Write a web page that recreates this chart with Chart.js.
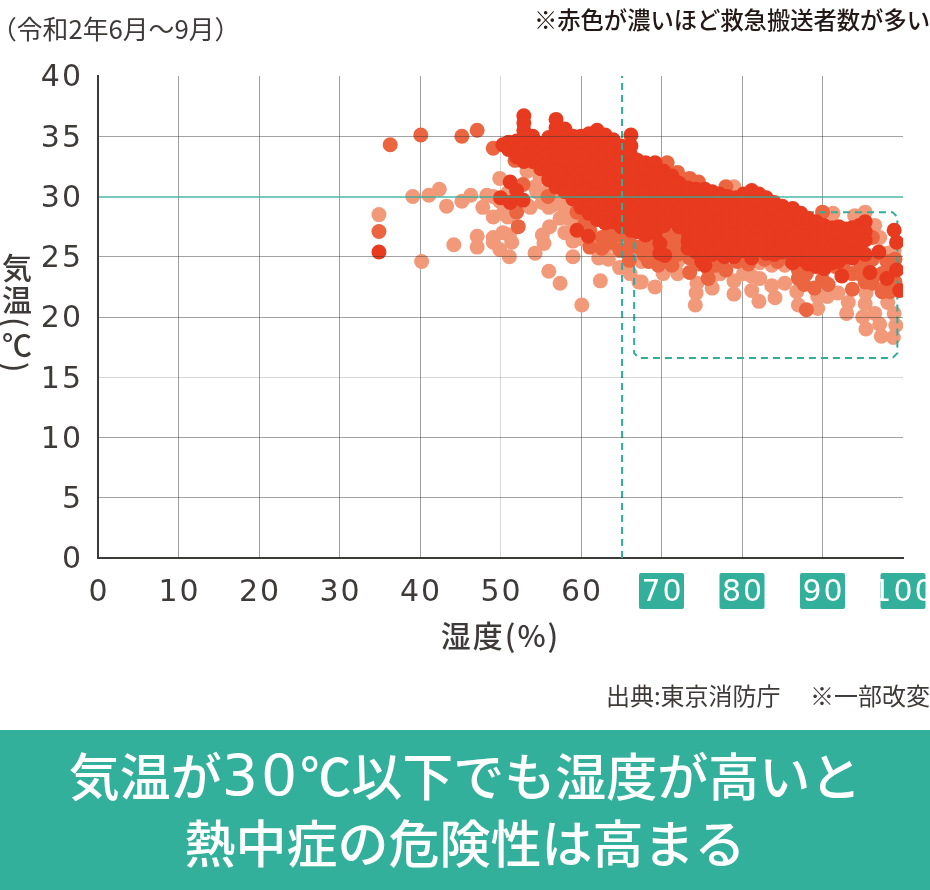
<!DOCTYPE html>
<html lang="ja">
<head>
<meta charset="utf-8">
<script src="https://cdn.jsdelivr.net/npm/chart.js@4"></script>
<style>
  html, body { margin: 0; padding: 0; background: #fff; }
  body { width: 930px; height: 890px; position: relative; overflow: hidden; font-family: "Noto Sans CJK JP", sans-serif; color: #3e3a39; }
  canvas { position: absolute; left: 0; top: 0; }
  .note { position: absolute; white-space: nowrap; line-height: 1; }
  #period { left: -9px; top: 15px; font-size: 25.8px; font-weight: 400; }
  #legendNote { right: 0; top: 8px; font-size: 23.3px; font-weight: 500; color: #231815; }
  #source { right: 0; top: 683px; font-size: 24px; font-weight: 400; }
  #yTitle { left: 2px; top: 253px; font-size: 30px; font-weight: 500; writing-mode: vertical-rl; letter-spacing: 2px; }
  #banner { position: absolute; left: 0; top: 730px; width: 930px; height: 160px; background: #32b09b; color: #fff; text-align: center; font-size: 51px; font-weight: 500; line-height: 67px; padding-top: 11px; box-sizing: border-box; }
  #banner span { font-family: "DejaVu Sans"; font-size: 57px; letter-spacing: 3px; line-height: 0; }
</style>
</head>
<body>
<canvas id="heat-chart" width="930" height="890"></canvas>
<div class="note" id="period">&#xFF08;令和2年6月〜9月&#xFF09;</div>
<div class="note" id="legendNote">※赤色が濃いほど救急搬送者数が多い</div>
<div class="note" id="yTitle">気温(℃)</div>
<div class="note" id="source">出典:東京消防庁&#x3000; ※一部改変</div>
<div id="banner">気温が<span>30</span>℃以下でも湿度が高いと<br>熱中症の危険性は高まる</div>
<script>
const xTicks = [0, 10, 20, 30, 40, 50, 60, 70, 80, 90, 100]
const yTicks = [0, 5, 10, 15, 20, 25, 30, 35, 40]
const boxedTicks = [70, 80, 90, 100]

// [humidity, [temperatures]]
const lightRows = [
  [34.9,[28.5]], [39.1,[30]], [40.2,[24.6]], [41.1,[30.1]], [42.4,[30.6]], [43.3,[29.2]], [44.2,[26]],
  [45.2,[29.6]], [46.3,[30.1]], [47.1,[26.7,25.8]], [47.8,[29.1]], [48.3,[30.1]], [49.1,[30,28.3,26.6,26.2]],
  [49.9,[31.5,29.6,25.6]], [50.3,[27,28.6]], [50.9,[30.3,28.3]], [51.1,[25,26.8]], [51.4,[26.2]],
  [53.3,[32.1,29.3]], [53.7,[29.1]], [54.3,[25.3,30.8]], [54.5,[30.4]], [54.9,[31.6]], [55.2,[26.8,29.5]],
  [55.4,[26.1]], [56,[23.8,29.1]], [56.1,[30.8,27.5]], [56.5,[29.3]], [57.4,[22.8,29.7,28.2]], [58,[27,29]],
  [58.4,[28.2]], [59,[25,26.3,28]], [60.1,[21,26.5]], [60.8,[27.6]], [61.6,[25.8]], [62.2,[24.9]], [62.4,[23]],
  [63.4,[24.8,26]], [64.8,[24.1,25.5]], [66.1,[23.6]], [67.2,[22.9,25.4]], [67.5,[24.6,22.9]], [69.2,[22.5]],
  [70.2,[23.6,25.8]], [72,[23.6,24.6]], [71.4,[27.7]], [73.4,[26.8]], [74.2,[21]], [74.3,[22]], [74.4,[22.8]],
  [76.3,[22.4,23.4]], [77.3,[23.6]], [79,[21.9,23,30.8]], [80.2,[23.6,24.4]], [81.2,[22.2,23.4]], [82.1,[21.3]],
  [82.2,[23.2,24.5]], [83.7,[22.6,24.3]], [84.1,[21.6]], [85.3,[22.8,24.3]], [86.8,[22.1,24.2]], [87,[21]],
  [89.4,[20.7,21.7]], [90.6,[21.7]], [91.3,[28.6]], [91.9,[22]], [93,[20.3]], [93.2,[21.2]], [94,[28.4]],
  [95,[20]], [95.3,[28.7,21.1]], [95.4,[22,19]], [96.5,[27.6,20.3]], [97.1,[26.6,19.4]], [97.3,[18.4]],
  [98.1,[21.2,25.3]], [98.8,[18.3]], [98.9,[20.3,25.5]], [99.1,[19.3]]
]
const midRows = [
  [34.9,[27.1]], [36.3,[34.3]], [40.1,[35.1]], [45.2,[35]], [47.1,[35.5]], [49.1,[34]],
  [51.8,[33]], [52,[28.7]], [52.2,[27.5]], [52.8,[31]], [55.9,[30]], [59.5,[28.7]], [60.5,[27.8]],
  [61.1,[25.8,27.2]], [62.6,[25.7,26.6]], [63.6,[27.2,26.2]], [64.8,[25.6,26.8]], [66,[24.7,25.8,26.6]],
  [66.4,[27]], [67.2,[25.8]], [67.8,[27,26,25.2]], [68.4,[25,24.6]], [69,[26.4,25.6]], [69.6,[24.3]],
  [70.6,[27,26.5]], [70.7,[32.8,26.2]], [71.3,[24.3,25.4]], [71.8,[26.2,27]], [72,[32,25.2]], [72.4,[25.8]],
  [72.8,[26.4]], [73.5,[23.7,31.5,24.9]], [74.6,[31.2,24.4]], [75.8,[23.2,24]], [76.8,[24.3]], [78,[23.9,30.8]],
  [79.4,[24.6]], [80.8,[24.4]], [82.8,[24.8]], [84.4,[24.6]], [86,[24.7]], [87,[23.9,23.2]], [87.7,[22.7]],
  [88,[20.6,23.6]], [89,[22.4]], [90,[28.7,23.1]], [90.7,[22.7]], [91.6,[24.2]], [92.7,[23.9]], [93.7,[22.3,23.6]],
  [94.6,[23.6,24.6]], [95.3,[22.9,24.1]], [96.2,[22.8,24.8,26.6]], [97.4,[22.1,23.6]], [98,[24.6,22.6]], [98.4,[22.1,23.8]], [99,[24.8,22.9]]
]
const darkRows = [
  [34.9,[25.4]], [50,[29.9]], [51.2,[31.2,29.5]], [52,[30.5]], [52.8,[29.7]],
  [50.3,[34.3]], [51,[34.5,33.9]], [52,[34.6,33.8,33.3]],
  [52.9,[36.7,36.1,35.5,34.9,34.2,33.5,32.9]],
  [54,[35,34.3,33.6,32.9]],
  [55,[34.4,33.7,33,32.3]],
  [56,[34.9,34.2,33.5,32.7,32,31.4]],
  [56.9,[36.4,35.7,35,34.3,33.6,32.8,32.1,31.3,30.8]],
  [58,[35.6,34.9,34.1,33.4,32.6,31.9,31.1,30.4]],
  [59,[35,34.3,33.5,32.8,32,31.3,30.5,29.8]],
  [59.5,[27.2]], [60.9,[26.7]],
  [60,[35,34.2,33.5,32.7,31.9,31.2,30.4,29.7,29.1]],
  [61,[35.2,34.4,33.6,32.9,32.1,31.3,30.6,29.8,29.1,28.6]],
  [62,[35.5,34.7,33.9,33.1,32.4,31.6,30.8,30.1,29.3,28.5,28.1]],
  [63,[35.1,34.4,33.6,32.8,32,31.2,30.5,29.7,28.9,28.2,27.8]],
  [64,[34.7,34,33.2,32.4,31.6,30.8,30,29.2,28.5,27.9]],
  [65,[34.2,33.5,32.7,31.9,31.1,30.3,29.5,28.7,28,27.5]],
  [66.2,[35.1,34.2,33.4,32.6,31.8,31,30.2,29.4,28.6,27.9,27.2]],
  [67,[33,32.3,31.5,30.7,29.9,29.1,28.3,27.6,27.1]],
  [68,[32.8,32,31.2,30.4,29.6,28.8,28.1,27.3,26.8]],
  [69.2,[32.8,32,31.2,30.4,29.6,28.9,28.2,27.6,27]],
  [69.8,[25.3,26.1]], [70.4,[25.1]],
  [70.3,[32.1,31.3,30.5,29.7,28.9,28.2,27.6]],
  [71.3,[31.7,31,30.2,29.4,28.7,28]],
  [72.2,[31.1,30.4,29.6,28.9,28.2,27.5]],
  [73.3,[30.7,30,29.2,28.5,27.7,27,26.3,25.7]],
  [74.3,[30.6,29.8,29.1,28.3,27.5,26.8,26,25.4]],
  [75,[24.6]],
  [75.4,[30.6,29.8,29,28.3,27.5,26.7,25.9,25.2,24.3]],
  [76.3,[30.4,29.6,28.8,28.1,27.3,26.5,25.8,25.2]],
  [77.2,[30.2,29.4,28.7,27.9,27.1,26.3,25.6]],
  [77.8,[25]],
  [78.2,[30,29.3,28.5,27.7,27,26.2,25.5]],
  [79,[25]],
  [79.2,[29.9,29.1,28.3,27.6,26.8,26.1,25.4]],
  [80.2,[30.2,29.4,28.6,27.8,27.1,26.3,25.5]],
  [81.2,[30.5,29.7,28.9,28.1,27.4,26.6,25.8,24.9]],
  [82.1,[30.2,29.5,28.7,27.9,27.1,26.4,25.6]],
  [83,[29.9,29.1,28.4,27.6,26.8,26,25.3]],
  [84,[29.5,28.8,28,27.2,26.5,25.7,25.2]],
  [85,[29.2,28.4,27.7,26.9,26.1,25.4]],
  [86.3,[29,28.2,27.5,26.7,26,25.2,24.5]],
  [87.3,[28.6,27.9,27.1,26.3,25.6,24.8]],
  [88.2,[28.2,27.5,26.7,26,25.2,24.4]],
  [89.2,[27.9,27.1,26.4,25.6,24.9,24.2]],
  [90.2,[27.6,26.9,26.1,25.4,24.7,24]],
  [91.2,[27.4,26.7,25.9,25.2,24.5]],
  [92,[27.5,26.8,26,25.3,24.6]], [92.4,[23.4]],
  [93,[27.3,26.5,25.8,25]],
  [93.7,[27.4,26.7,25.9,25.2,24.9]],
  [94.6,[27.6,26.9,26.1,25.5]],
  [95.3,[27.9,27.1,26.4,25.2]], [95.9,[23.7]],
  [97,[25.4]], [98,[23.2]], [98.9,[27.2]], [99.2,[26.2,23.9]], [99.6,[22.2]]
]

const cutoffHumidity = [65.1, 65.1]
const cutoffTemp = [0, 40]
const zoneHumidity = [67.2, 98.7, 99.3, 99.3, 98.7, 67.2, 66.6, 66.6, 67.2]
const zoneTemp = [28.7, 28.7, 28.3, 17, 16.6, 16.6, 17, 28.3, 28.7]

const toPoints = rows => rows.flatMap(([h, temps]) => temps.map(t => ({ x: h, y: t })))
const toLine = (xs, ys) => xs.map((x, i) => ({ x, y: ys[i] }))

const dots = { pointRadius: 7.5, pointHoverRadius: 7.5, borderWidth: 0, showLine: false }
const teal = '#2fae99'
const inkColor = '#3e3a39'

const tickBoxes = {
  id: 'tickBoxes',
  beforeDraw(chart) {
    const ctx = chart.ctx
    ctx.save()
    ctx.fillStyle = '#32b09b'
    boxedTicks.forEach(v => {
      const x = chart.scales.x.getPixelForValue(v)
      ctx.beginPath()
      ctx.roundRect(x - 22.5, 573, 45, 36, 2)
      ctx.fill()
    })
    ctx.restore()
    // the reference numerals are set wide
    ctx.letterSpacing = '2px'
  }
}

new Chart(document.getElementById('heat-chart').getContext('2d'), {
  type: 'scatter',
  plugins: [tickBoxes],
  data: {
    datasets: [
      { label: 'cutoff', data: toLine(cutoffHumidity, cutoffTemp), showLine: true, pointRadius: 0, borderColor: teal, borderWidth: 2, borderDash: [7, 5], order: 0 },
      { label: 'dark', data: toPoints(darkRows), backgroundColor: '#e83a1f', ...dots, order: 1 },
      { label: 'zone', data: toLine(zoneHumidity, zoneTemp), showLine: true, pointRadius: 0, borderColor: teal, borderWidth: 2, borderDash: [7, 5], order: 2 },
      { label: 'mid', data: toPoints(midRows), backgroundColor: '#eb6540', ...dots, order: 3 },
      { label: 'light', data: toPoints(lightRows), backgroundColor: '#f2997a', ...dots, order: 4 }
    ]
  },
  options: {
    responsive: false,
    animation: false,
    layout: { autoPadding: false, padding: { top: 76, right: 27, left: 0, bottom: 0 } },
    plugins: { legend: { display: false }, tooltip: { enabled: false } },
    scales: {
      x: {
        type: 'linear', min: 0, max: 100,
        afterFit: s => { s.height = 332; s.paddingRight = 0; s.paddingLeft = 0 },
        afterBuildTicks: s => { s.ticks = xTicks.map(value => ({ value })) },
        border: { color: inkColor, width: 2 },
        grid: {
          drawTicks: false,
          lineWidth: 1,
          color: c => c.tick.value === 100 ? 'transparent' : c.tick.value === 50 ? '#d6d6d6' : '#a0a0a0'
        },
        ticks: {
          padding: 17,
          labelOffset: 1,
          maxRotation: 0,
          autoSkip: false,
          font: { family: 'DejaVu Sans', size: 30 },
          color: c => boxedTicks.includes(c.tick.value) ? '#fff' : inkColor
        },
        title: { display: true, text: '湿度(%)', color: inkColor, font: { family: 'Noto Sans CJK JP', size: 30, weight: '500' }, padding: { top: 0, bottom: 236 } }
      },
      y: {
        type: 'linear', min: 0, max: 40,
        afterFit: s => { s.width = 98 },
        afterBuildTicks: s => { s.ticks = yTicks.map(value => ({ value })) },
        border: { color: inkColor, width: 2, z: 1 },
        grid: {
          z: 1,
          drawTicks: false,
          lineWidth: c => c.tick.value === 30 ? 2 : 1,
          color: c => {
            if (c.tick.value === 40 || c.tick.value === 0) return 'transparent'
            if (c.tick.value === 30) return 'rgba(47,174,153,0.65)'
            if (c.tick.value === 15) return 'rgba(0,0,0,0.16)'
            return 'rgba(50,50,50,0.45)'
          }
        },
        ticks: {
          padding: 15,
          labelOffset: 2.5,
          autoSkip: false,
          font: { family: 'DejaVu Sans', size: 30 },
          color: inkColor
        }
      }
    }
  }
})
</script>
</body>
</html>
